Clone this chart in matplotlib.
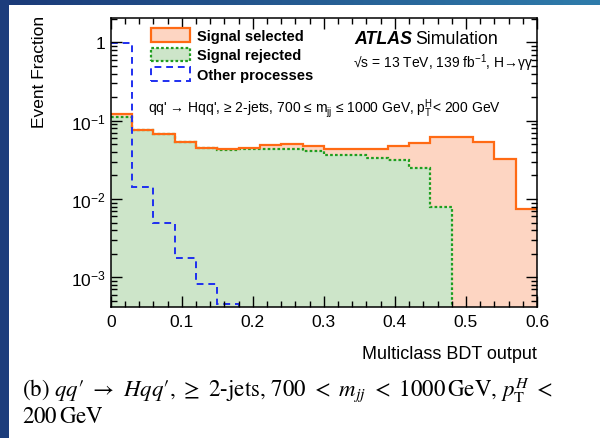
import numpy as np
import matplotlib
matplotlib.use("Agg")
import matplotlib.pyplot as plt
from matplotlib.colors import LinearSegmentedColormap
from matplotlib.patches import Patch
from matplotlib.ticker import FixedLocator, FixedFormatter, MultipleLocator

plt.rcParams["font.family"] = ["Liberation Sans", "DejaVu Sans"]
plt.rcParams["mathtext.fontset"] = "custom"
plt.rcParams["mathtext.rm"] = "Liberation Sans"
plt.rcParams["mathtext.it"] = "Liberation Sans:italic"
plt.rcParams["mathtext.bf"] = "Liberation Sans:bold"

# BDT output binning: 20 bins of 0.03 between 0 and 0.6
bin_edges = np.linspace(0.0, 0.6, 21)

# event fractions per bin
signal_selected = [0.122, 0.076, 0.068, 0.053, 0.045, 0.043, 0.045, 0.049, 0.051, 0.048,
                   0.043, 0.044, 0.043, 0.047, 0.052, 0.061, 0.062, 0.054, 0.032, 0.0075]
signal_rejected = [0.110, 0.075, 0.068, 0.053, 0.045, 0.042, 0.044, 0.044, 0.044, 0.041,
                   0.0366, 0.0366, 0.0335, 0.0316, 0.0245, 0.0078, 0, 0, 0, 0]
other_processes = [0.98, 0.0144, 0.0050, 0.00178, 0.00081, 0.00045, 0, 0, 0, 0,
                   0, 0, 0, 0, 0, 0, 0, 0, 0, 0]

legend_labels = ["Signal selected", "Signal rejected", "Other processes"]
x_ticks = [0.0, 0.1, 0.2, 0.3, 0.4, 0.5, 0.6]
x_ticklabels = ["0", "0.1", "0.2", "0.3", "0.4", "0.5", "0.6"]
y_ticks = [1e-3, 1e-2, 1e-1, 1.0]
y_ticklabels = [r"$10^{-3}$", r"$10^{-2}$", r"$10^{-1}$", "1"]

ORANGE, ORANGE_FILL = "#ff6a14", "#fdd5c2"
GREEN, GREEN_FILL = "#1f9e1f", "#cde5c9"
BLUE = "#1f2ff0"
FLOOR = 1e-6

fig = plt.figure(figsize=(6.0, 4.39), dpi=100)

# slide frame: navy band on the left, gradient band along the top
band_cmap = LinearSegmentedColormap.from_list("band", ["#1b3a78", "#2f7cab"])
top = fig.add_axes([0, 1 - 6 / 439, 1, 6 / 439])
top.imshow(np.linspace(0, 1, 256)[None, :], aspect="auto", cmap=band_cmap)
top.axis("off")
left = fig.add_axes([0, 0, 9 / 600, 1])
left.set_facecolor("#1c3d7c")
left.set_xticks([]); left.set_yticks([])
for s in left.spines.values():
    s.set_visible(False)

ax = fig.add_axes([110.7 / 600, 1 - 307.7 / 439, 426.3 / 600, 288.7 / 439])
ax.set_yscale("log")

ax.stairs(signal_selected, bin_edges, fill=True, baseline=FLOOR, color=ORANGE_FILL, lw=0)
ax.stairs(signal_rejected, bin_edges, fill=True, baseline=FLOOR, color=GREEN_FILL, lw=0)
ax.stairs(signal_rejected, bin_edges, baseline=None, color=GREEN, lw=1.6, ls=(0, (1.2, 1.0)))
ax.stairs(signal_selected, bin_edges, baseline=None, color=ORANGE, lw=1.6)
ax.stairs(other_processes, bin_edges, baseline=None, color=BLUE, lw=1.4, ls=(0, (3.5, 2.5)))

ax.set_xlim(0, 0.6)
ax.set_ylim(4.2e-4, 2.05)
ax.set_xticks(x_ticks)
ax.set_xticklabels(x_ticklabels)
ax.xaxis.set_minor_locator(MultipleLocator(0.02))
ax.yaxis.set_major_locator(FixedLocator(y_ticks))
ax.yaxis.set_major_formatter(FixedFormatter(y_ticklabels))
ax.tick_params(which="both", direction="in", top=True, right=True, width=1.0, labelsize=12.5)
ax.tick_params(which="major", length=8)
ax.tick_params(which="minor", length=4.5)
ax.tick_params(axis="x", pad=5)
for s in ax.spines.values():
    s.set_linewidth(1.1)

handles = [Patch(facecolor=ORANGE_FILL, edgecolor=ORANGE, lw=1.6),
           Patch(facecolor=GREEN_FILL, edgecolor=GREEN, lw=1.6, ls=(0, (1.2, 1.0))),
           Patch(facecolor="none", edgecolor=BLUE, lw=1.4, ls=(0, (3.5, 2.5)))]
ax.legend(handles, legend_labels, loc="upper left", bbox_to_anchor=(0.08, 0.985),
          frameon=False, prop={"weight": "bold", "size": 10.5},
          handlelength=2.7, handleheight=1.05, labelspacing=0.32, handletextpad=0.5,
          borderaxespad=0)

ax.text(0.571, 0.912, "ATLAS", transform=ax.transAxes, fontsize=12.8,
        fontweight="bold", fontstyle="italic")
ax.text(0.714, 0.912, "Simulation", transform=ax.transAxes, fontsize=12.8)
ax.text(0.568, 0.83, "√s = 13 TeV, 139 fb$^{-1}$, H→γγ", transform=ax.transAxes, fontsize=10)
ax.text(0.088, 0.675, r"qq' → Hqq', ≥ 2-jets, 700 ≤ m$_{\mathrm{jj}}$ ≤ 1000 GeV, "
        r"p$_{\mathrm{T}}^{\mathrm{H}}$< 200 GeV", transform=ax.transAxes, fontsize=10)

fig.text(40 / 600, 1 - 16 / 439, "Event Fraction", rotation=90, ha="center", va="top",
         fontsize=12.5)
fig.text(537 / 600, 1 - 355 / 439, "Multiclass BDT output", ha="right", va="center",
         fontsize=13)

caption = (r"(b) $qq$′ $\rightarrow$ $Hqq$′, $\geq$ 2-jets, 700 $<$ $m_{jj}$ $<$ "
           r"1000$\,$GeV, $p_{\mathrm{T}}^{H}$ $<$")
fig.text(22 / 600, 1 - 391 / 439, caption, family="STIXGeneral", math_fontfamily="stix",
         ha="left", va="center", fontsize=16.5)
fig.text(22 / 600, 1 - 417 / 439, r"200$\,$GeV", family="STIXGeneral", math_fontfamily="stix",
         ha="left", va="center", fontsize=16.5)

fig.savefig("out.png", dpi=100)
